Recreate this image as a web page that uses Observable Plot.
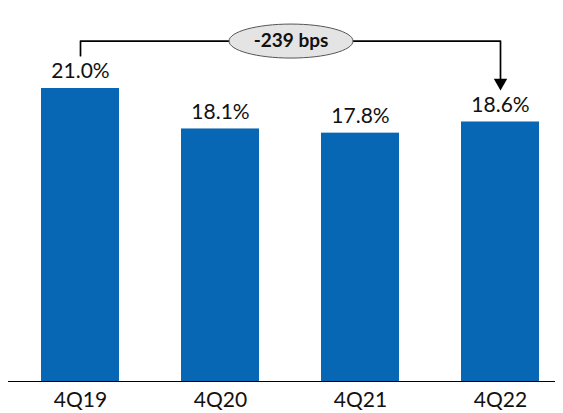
<!DOCTYPE html>
<html>
<head>
<meta charset="utf-8">
<script src="https://cdn.jsdelivr.net/npm/d3@7"></script>
<script src="https://cdn.jsdelivr.net/npm/@observablehq/plot@0.6"></script>
<style>
  html, body { margin: 0; padding: 0; background: #fff; }
  #chart svg { display: block; }
</style>
</head>
<body>
<div id="chart"></div>
<script>
// Quarterly ratio, in percent
const quarters = ["4Q19", "4Q20", "4Q21", "4Q22"];
const values = [21.0, 18.1, 17.8, 18.6];
const valueLabels = ["21.0%", "18.1%", "17.8%", "18.6%"];
const changeLabel = "-239 bps";

const bars = quarters.map((q, i) => ({q, v: values[i], label: valueLabels[i]}));

// Bracket from the first to the last quarter, drawn above the bars
const bracketTop = 24.4;
const bracket = [
  {q: quarters[0], v: 23.35},
  {q: quarters[0], v: bracketTop},
  {q: quarters[3], v: bracketTop},
  {q: quarters[3], v: 21.7}
];

// Ellipse symbol for the change badge
const ellipse = {
  draw(context) {
    const rx = 62, ry = 17, k = 0.5523;
    context.moveTo(rx, 0);
    context.bezierCurveTo(rx, ry * k, rx * k, ry, 0, ry);
    context.bezierCurveTo(-rx * k, ry, -rx, ry * k, -rx, 0);
    context.bezierCurveTo(-rx, -ry * k, -rx * k, -ry, 0, -ry);
    context.bezierCurveTo(rx * k, -ry, rx, -ry * k, rx, 0);
    context.closePath();
  }
};

const chart = Plot.plot({
  width: 563,
  height: 413,
  marginLeft: 8,
  marginRight: 8,
  marginTop: 0,
  marginBottom: 32,
  style: {fontFamily: "Lato, 'Open Sans', sans-serif", background: "#fff"},
  x: {domain: quarters, paddingInner: 0.443, paddingOuter: 0.163, align: 0.67, label: null},
  y: {domain: [0, 21], range: [381, 88], axis: null},
  marks: [
    Plot.barY(bars, {x: "q", y: "v", fill: "#0767B4"}),
    Plot.ruleY([0], {stroke: "#000", strokeWidth: 1.2}),
    Plot.text(bars, {x: "q", y: "v", text: "label", dy: -17, fontSize: 21, fill: "#111"}),
    Plot.axisX({tickSize: 0, tickPadding: 11, fontSize: 21, fill: "#111"}),
    Plot.line(bracket, {x: "q", y: "v", stroke: "#000", strokeWidth: 1.7}),
    Plot.dot([bracket[3]], {x: "q", y: "v", symbol: "triangle", rotate: 180, r: 5, fill: "#000", dy: 4}),
    Plot.dot([{q: quarters[1], v: bracketTop}], {x: "q", y: "v", dx: 70.5, symbol: ellipse, fill: "#e4e4e4", stroke: "#555", strokeWidth: 1}),
    Plot.text([{q: quarters[1], v: bracketTop}], {x: "q", y: "v", dx: 70.5, text: () => changeLabel, fontSize: 19, fontWeight: "bold", fill: "#111"})
  ]
});

document.getElementById("chart").appendChild(chart);
</script>
</body>
</html>
